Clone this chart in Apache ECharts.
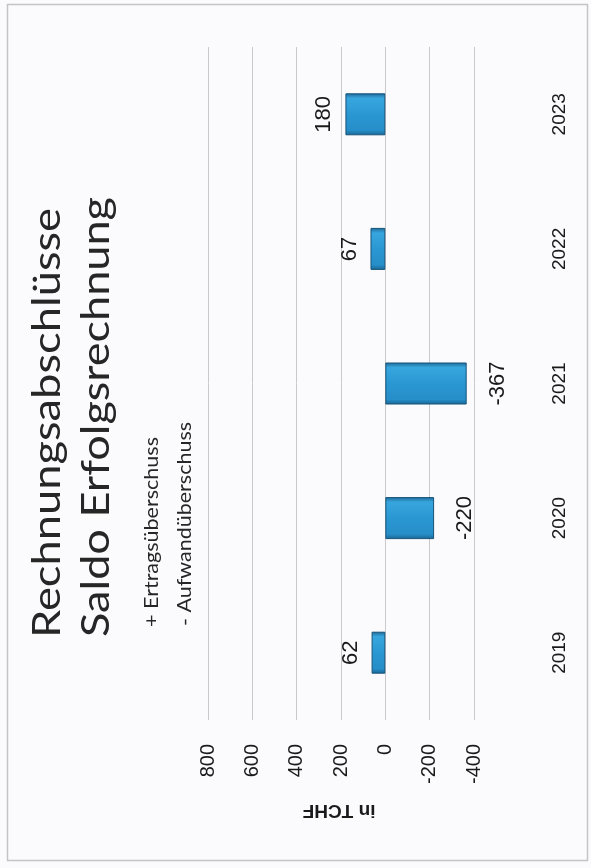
<!DOCTYPE html>
<html>
<head>
<meta charset="utf-8">
<script src="https://cdn.jsdelivr.net/npm/echarts@6/dist/echarts.min.js"></script>
<style>
  html, body { margin: 0; padding: 0; background: #fbfbfd; }
  #main { width: 591px; height: 868px; }
</style>
</head>
<body>
<div id="main"></div>
<script>
// data
const years = ['2019', '2020', '2021', '2022', '2023'];
const saldo = [62, -220, -367, 67, 180];
const valueMin = -400;
const valueMax = 800;
const valueStep = 200;
const titleLines = ['Rechnungsabschlüsse', 'Saldo Erfolgsrechnung'];
const noteLines = ['+ Ertragsüberschuss', '- Aufwandüberschuss'];
const unitLabel = 'in TCHF';

const chart = echarts.init(document.getElementById('main'));

// the scan is stretched along the page, so rotated texts get a length to fit
const measureCtx = document.createElement('canvas').getContext('2d');
function stretchedText(text, font, x, y, length) {
  measureCtx.font = font;
  const w = measureCtx.measureText(text).width;
  return {
    type: 'text',
    x: x,
    y: y,
    rotation: Math.PI / 2,
    scaleX: length / w,
    style: {
      text: text,
      font: font,
      fill: '#262626',
      align: 'left',
      verticalAlign: 'middle'
    }
  };
}

const barColor = new echarts.graphic.LinearGradient(0, 0, 0, 1, [
  { offset: 0, color: '#1d6898' },
  { offset: 0.12, color: '#38a6de' },
  { offset: 0.5, color: '#2a97d2' },
  { offset: 0.88, color: '#268ec9' },
  { offset: 1, color: '#1a6593' }
]);

const barData = saldo.map(function (v) {
  const pos = v >= 0;
  return {
    value: v,
    label: {
      position: pos ? 'left' : 'right',
      distance: pos ? 10 : 20,
      align: 'center',
      verticalAlign: pos ? 'bottom' : 'top'
    }
  };
});

const option = {
  backgroundColor: '#fbfbfd',
  animation: false,
  grid: { left: 208, right: 117, top: 47, bottom: 148 },
  xAxis: {
    type: 'value',
    inverse: true,
    min: valueMin,
    max: valueMax,
    interval: valueStep,
    axisLine: { show: false },
    axisTick: { show: false },
    splitLine: { lineStyle: { color: '#c9c9cc', width: 1 } },
    axisLabel: {
      rotate: 90,
      margin: 24,
      color: '#1a1a1a',
      fontSize: 20,
      fontFamily: 'Liberation Sans'
    }
  },
  yAxis: {
    type: 'category',
    position: 'right',
    data: years,
    axisLine: { show: false },
    axisTick: { show: false },
    axisLabel: {
      rotate: 90,
      margin: 76,
      color: '#1a1a1a',
      fontSize: 19,
      fontFamily: 'Liberation Sans'
    }
  },
  series: [{
    type: 'bar',
    data: barData,
    barWidth: 42,
    itemStyle: {
      color: barColor,
      borderColor: '#165378',
      borderWidth: 1
    },
    label: {
      show: true,
      rotate: 90,
      color: '#1a1a1a',
      fontSize: 22,
      fontFamily: 'Liberation Sans'
    }
  }],
  graphic: [
    {
      type: 'rect',
      shape: { x: 7.5, y: 4.5, width: 580, height: 856 },
      style: { fill: 'none', stroke: '#c4c4c8', lineWidth: 1.5 },
      silent: true
    },
    stretchedText(titleLines[0], '39px Lato', 47, 638, 430),
    stretchedText(titleLines[1], '39px Lato', 96, 637, 440),
    stretchedText(noteLines[0], '19px Lato', 152, 627, 190),
    stretchedText(noteLines[1], '19px Lato', 185, 626, 204),
    {
      type: 'text',
      x: 339,
      y: 810,
      rotation: Math.PI,
      style: {
        text: unitLabel,
        font: 'bold 19px Liberation Sans',
        fill: '#1a1a1a',
        align: 'center',
        verticalAlign: 'middle'
      }
    }
  ]
};

chart.setOption(option);
</script>
</body>
</html>
